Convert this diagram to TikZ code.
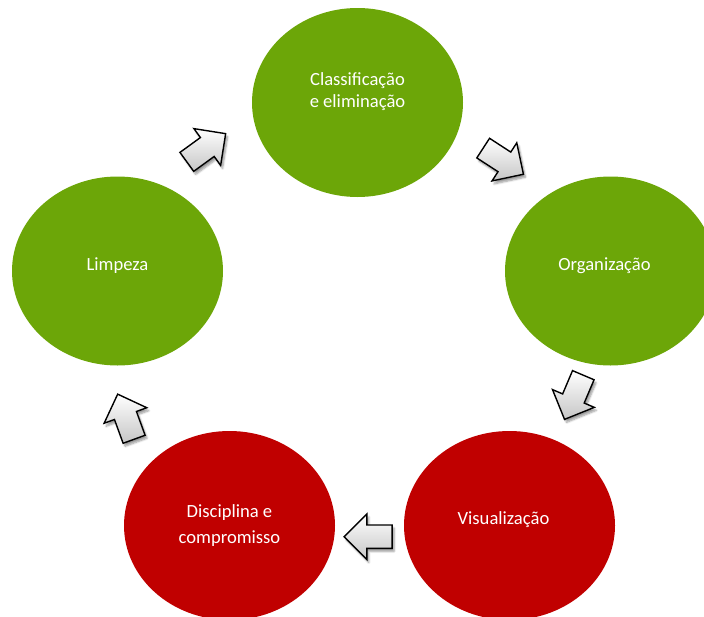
\documentclass[tikz,border=0pt]{standalone}
\usepackage{fontspec}
\setmainfont{Carlito}
\usetikzlibrary{shapes.geometric, shapes.arrows, shadows.blur}
\definecolor{stepgreen}{RGB}{108,166,8}
\definecolor{stepred}{RGB}{192,0,0}

\begin{document}
\begin{tikzpicture}[x=1pt, y=-1pt,
    phase/.style={ellipse, minimum width=211pt, minimum height=189pt, inner sep=0pt,
        text=white, align=center, font=\fontsize{18.6}{22.8}\selectfont},
    greenphase/.style={phase, fill=stepgreen},
    redphase/.style={phase, fill=stepred},
    turn/.style={single arrow, draw=black, line width=1.4pt, minimum height=48pt,
        inner xsep=0pt, inner ysep=11pt, single arrow head extend=11pt,
        top color=white, bottom color=gray!45,
        blur shadow={shadow xshift=2pt, shadow yshift=-3pt, shadow blur steps=6, shadow opacity=40}}]
    \useasboundingbox (0,0) rectangle (704,616);
    \clip (0,0) rectangle (704,616);

    % Phases
    \node (classif) [greenphase, text depth=25pt] at (357.5,102.5) {Classificação\\e eliminação};
    \node (organiz) [greenphase, text depth=14pt] at (610.5,271) {\hspace*{-12pt}Organização};
    \node (visual) [redphase, text depth=14pt] at (509.5,525.5) {\hspace*{-12pt}Visualização};
    \node (discip) [redphase] at (229.5,525.5) {Disciplina e\\[3.9pt]compromisso};
    \node (limpeza) [greenphase, text depth=14pt] at (117.5,271) {Limpeza};

    % Arrows between the phases
    \node (turn1) [turn, rotate=36] at (201.5,151.2) {};
    \node (turn2) [turn, rotate=-33] at (498.4,158) {};
    \node (turn3) [turn, rotate=-113] at (576.2,391.9) {};
    \node (turn4) [turn, rotate=180] at (374,536.7) {};
    \node (turn5) [turn, rotate=110] at (127.9,422.2) {};
\end{tikzpicture}
\end{document}
